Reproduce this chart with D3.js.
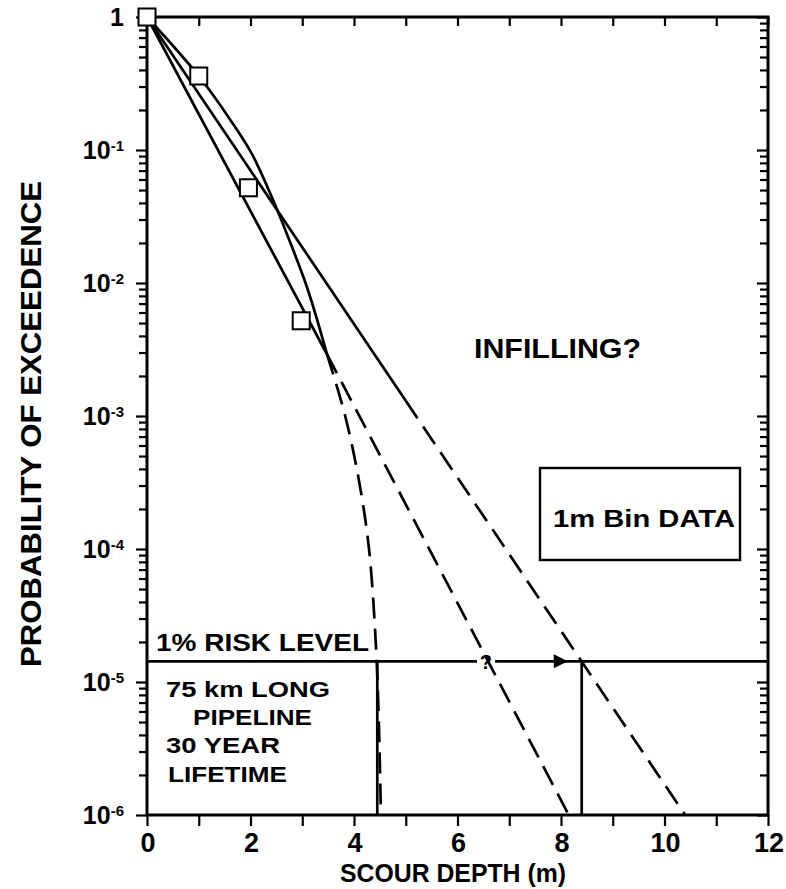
<!DOCTYPE html>
<html>
<head>
<meta charset="utf-8">
<script src="https://cdn.jsdelivr.net/npm/d3@7"></script>
<style>
  body { margin: 0; background: #fff; }
  text { font-family: "Liberation Sans", Arial, Helvetica, sans-serif; font-weight: bold; fill: #000; }
</style>
</head>
<body>
<svg id="chart" width="786" height="889"></svg>
<script>
// Observed 1 m bin exceedence probabilities
const binDepth = [0, 1.0, 1.96, 2.98];
const binProb  = [1, 0.36, 0.052, 0.0052];

// Straight fit A (steeper exponential tail)
const fitASolid  = [[0, 1], [3.48, 2.9e-3]];
const fitADashed = [[3.48, 2.9e-3], [8.15, 1e-6]];

// Straight fit B (shallower exponential tail)
const fitBSolid  = [[0, 1], [5.0, 1.3e-3]];
const fitBDashed = [[5.0, 1.3e-3], [10.4, 1e-6]];

// Curved fit C through the bin data, with its dashed extrapolation
const fitCSolid  = [[0, 1], [1.0, 0.36], [1.64, 0.162], [2.03, 0.093], [2.46, 0.04],
                    [2.73, 0.022], [3.1, 9.1e-3], [3.48, 2.9e-3]];
const fitCDashed = [[3.48, 2.9e-3], [3.83, 1e-3], [4.1, 3.2e-4], [4.29, 1e-4],
                    [4.42, 2e-5], [4.48, 5e-6], [4.52, 1e-6]];

// 1% risk level and the depths read at it
const riskProb = 1.43e-5;
const riskDepthA = 6.55;     // where fit A crosses the risk level ("?")
const riskDepthC = 4.45;     // where fit C crosses the risk level
const riskDepthB = 8.4;      // where fit B crosses the risk level
const arrowTip = 8.13;

// Axis ticks
const xMajorTicks = [0, 2, 4, 6, 8, 10, 12];
const xMinorTicks = [1, 3, 5, 7, 9, 11];
const yDecades = [1, 1e-1, 1e-2, 1e-3, 1e-4, 1e-5, 1e-6];
const yDecadeLabels = ["1", "-1", "-2", "-3", "-4", "-5", "-6"];

const svg = d3.select("#chart");
const plotLeft = 147, plotRight = 768, plotTop = 17, plotBottom = 815;

const x = d3.scaleLinear().domain([0, 12]).range([plotLeft, plotRight]);
const y = d3.scaleLog().domain([1, 1e-6]).range([plotTop, plotBottom]);

const minorY = [];
for (let e = 0; e > -6; e--) {
  for (let m = 2; m <= 9; m++) minorY.push(m * Math.pow(10, e - 1));
}

// ---- axes ----
const gAxes = svg.append("g");

function styleAxis(g) {
  g.select(".domain").remove();
  g.selectAll("line").attr("stroke", "#000").attr("stroke-width", 2.2);
  g.selectAll("text").remove();
}

// left: outward ticks
gAxes.append("g").attr("transform", `translate(${plotLeft},0)`)
  .call(d3.axisLeft(y).tickValues(yDecades).tickSize(11).tickFormat(""))
  .call(styleAxis);
gAxes.append("g").attr("transform", `translate(${plotLeft},0)`)
  .call(d3.axisLeft(y).tickValues(minorY).tickSize(8).tickFormat(""))
  .call(styleAxis);
// right: inward ticks
gAxes.append("g").attr("transform", `translate(${plotRight},0)`)
  .call(d3.axisRight(y).tickValues(yDecades).tickSize(-11).tickFormat(""))
  .call(styleAxis);
gAxes.append("g").attr("transform", `translate(${plotRight},0)`)
  .call(d3.axisRight(y).tickValues(minorY).tickSize(-8).tickFormat(""))
  .call(styleAxis);
// bottom: outward ticks
gAxes.append("g").attr("transform", `translate(0,${plotBottom})`)
  .call(d3.axisBottom(x).tickValues(xMajorTicks.concat(xMinorTicks)).tickSize(11).tickFormat(""))
  .call(styleAxis);
// top: inward ticks
gAxes.append("g").attr("transform", `translate(0,${plotTop})`)
  .call(d3.axisTop(x).tickValues(xMajorTicks.concat(xMinorTicks)).tickSize(-9).tickFormat(""))
  .call(styleAxis);

// frame
svg.append("rect")
  .attr("x", plotLeft).attr("y", plotTop)
  .attr("width", plotRight - plotLeft).attr("height", plotBottom - plotTop)
  .attr("fill", "none").attr("stroke", "#000").attr("stroke-width", 3);

// x tick labels
svg.append("g").selectAll("text").data(xMajorTicks).join("text")
  .attr("x", d => x(d) + 1).attr("y", plotBottom + 37)
  .attr("text-anchor", "middle")
  .attr("font-size", 27)
  .text(d => d);

// y tick labels with superscript exponents
const yl = svg.append("g").selectAll("text").data(yDecades).join("text")
  .attr("x", 124).attr("y", d => y(d) + 9)
  .attr("text-anchor", "end")
  .attr("font-size", 25);
yl.each(function(d, i) {
  const t = d3.select(this);
  if (i === 0) { t.text(yDecadeLabels[i]); return; }
  t.append("tspan").text("10");
  t.append("tspan").attr("font-size", 15).attr("dy", -8).text(yDecadeLabels[i]);
});

// axis titles
svg.append("text")
  .attr("x", 453).attr("y", 882)
  .attr("text-anchor", "middle")
  .attr("font-size", 25)
  .attr("textLength", 226).attr("lengthAdjust", "spacingAndGlyphs")
  .text("SCOUR DEPTH (m)");

svg.append("text")
  .attr("transform", "translate(41,424) rotate(-90)")
  .attr("text-anchor", "middle")
  .attr("font-size", 29)
  .attr("textLength", 486).attr("lengthAdjust", "spacingAndGlyphs")
  .text("PROBABILITY OF EXCEEDENCE");

// ---- fits ----
const line = d3.line().x(d => x(d[0])).y(d => y(d[1]));
const curved = d3.line().x(d => x(d[0])).y(d => y(d[1])).curve(d3.curveCatmullRom.alpha(0.5));
const gFits = svg.append("g").attr("fill", "none").attr("stroke", "#000").attr("stroke-width", 2.7);

gFits.append("path").attr("d", line(fitASolid));
gFits.append("path").attr("d", line(fitADashed)).attr("stroke-dasharray", "21,10");
gFits.append("path").attr("d", line(fitBSolid));
gFits.append("path").attr("d", line(fitBDashed)).attr("stroke-dasharray", "21,10");
gFits.append("path").attr("d", curved(fitCSolid));
gFits.append("path").attr("d", curved(fitCDashed)).attr("stroke-dasharray", "21,10");

// ---- risk level ----
const gRisk = svg.append("g").attr("stroke", "#000").attr("stroke-width", 2.7);
gRisk.append("line")
  .attr("x1", x(0)).attr("x2", x(riskDepthA) - 9)
  .attr("y1", y(riskProb)).attr("y2", y(riskProb));
gRisk.append("line")
  .attr("x1", x(riskDepthA) + 9).attr("x2", x(12))
  .attr("y1", y(riskProb)).attr("y2", y(riskProb));
gRisk.append("line")
  .attr("x1", x(riskDepthC)).attr("x2", x(riskDepthC))
  .attr("y1", y(riskProb)).attr("y2", y(1e-6));
gRisk.append("line")
  .attr("x1", x(riskDepthB)).attr("x2", x(riskDepthB))
  .attr("y1", y(riskProb)).attr("y2", y(1e-6));
svg.append("path")
  .attr("d", `M${x(arrowTip)},${y(riskProb)} l-14,-7 l0,14 z`)
  .attr("fill", "#000");
svg.append("text")
  .attr("x", x(riskDepthA)).attr("y", y(riskProb) + 8)
  .attr("text-anchor", "middle").attr("font-size", 20).attr("font-weight", "normal")
  .text("?");

// ---- bin data markers ----
svg.append("g").selectAll("rect").data(binDepth).join("rect")
  .attr("x", (d) => x(d) - 8.5).attr("y", (d, i) => y(binProb[i]) - 8.5)
  .attr("width", 17).attr("height", 17)
  .attr("fill", "#fff").attr("stroke", "#000").attr("stroke-width", 2);

// ---- annotations ----
function label(txt, x0, y0, size, len) {
  svg.append("text").attr("x", x0).attr("y", y0).attr("font-size", size)
    .attr("textLength", len).attr("lengthAdjust", "spacingAndGlyphs").text(txt);
}
label("INFILLING?", 474, 358, 28, 167);

svg.append("rect")
  .attr("x", 540).attr("y", 468).attr("width", 200).attr("height", 92)
  .attr("fill", "none").attr("stroke", "#000").attr("stroke-width", 2.4);
label("1m Bin DATA", 553, 527, 23, 182);

label("1% RISK LEVEL", 156, 651, 23, 213);
label("75 km LONG", 166, 697, 22, 164);
label("PIPELINE", 193, 725, 22, 119);
label("30 YEAR", 166, 753, 22, 114);
label("LIFETIME", 168, 782, 22, 119);
</script>
</body>
</html>
